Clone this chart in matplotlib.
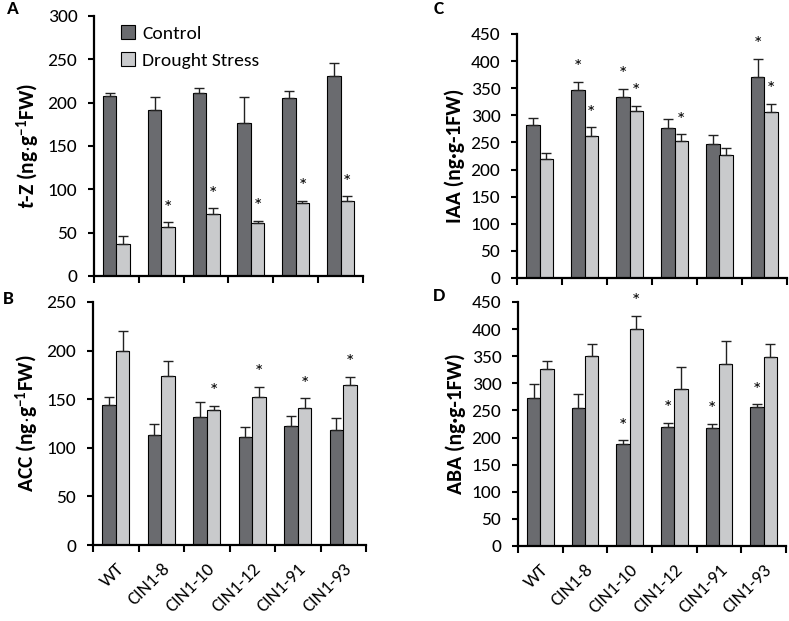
import numpy as np
import matplotlib
matplotlib.use("Agg")
import matplotlib.pyplot as plt

plt.rcParams['font.family'] = ['Carlito', 'DejaVu Sans']
plt.rcParams['mathtext.fontset'] = 'custom'
plt.rcParams['mathtext.rm'] = 'Carlito:bold'
plt.rcParams['mathtext.it'] = 'Carlito:italic:bold'
plt.rcParams['mathtext.bf'] = 'Carlito:bold'

# lines (x categories)
lines = ['WT', 'CIN1-8', 'CIN1-10', 'CIN1-12', 'CIN1-91', 'CIN1-93']

# t-Z
tz_ctrl = [208, 192, 211, 177, 205, 231]
tz_ctrl_err = [3, 15, 6, 29, 9, 15]
tz_dro = [37, 57, 72, 61, 84, 87]
tz_dro_err = [9, 5, 6, 3, 3, 5]
tz_ctrl_sig = [0, 0, 0, 0, 0, 0]
tz_dro_sig = [0, 1, 1, 1, 1, 1]

# ACC
acc_ctrl = [144, 113, 132, 111, 122, 118]
acc_ctrl_err = [8, 11, 15, 10, 11, 13]
acc_dro = [200, 174, 139, 152, 141, 165]
acc_dro_err = [20, 15, 4, 11, 10, 8]
acc_ctrl_sig = [0, 0, 0, 0, 0, 0]
acc_dro_sig = [0, 0, 1, 1, 1, 1]

# IAA
iaa_ctrl = [282, 346, 334, 276, 247, 371]
iaa_ctrl_err = [13, 16, 15, 17, 16, 33]
iaa_dro = [220, 262, 308, 253, 227, 306]
iaa_dro_err = [11, 16, 10, 12, 12, 15]
iaa_ctrl_sig = [0, 1, 1, 0, 0, 1]
iaa_dro_sig = [0, 1, 1, 1, 0, 1]

# ABA
aba_ctrl = [273, 254, 189, 219, 218, 257]
aba_ctrl_err = [26, 27, 6, 8, 7, 4]
aba_dro = [326, 351, 400, 289, 336, 348]
aba_dro_err = [15, 21, 25, 42, 42, 25]
aba_ctrl_sig = [0, 0, 1, 1, 1, 1]
aba_dro_sig = [0, 0, 1, 0, 0, 0]

dark = '#6a6b6f'
light = '#c9cacc'
W, H = 789, 621

fig = plt.figure(figsize=(W / 100, H / 100), dpi=100)


def px_axes(l, t, r, b):
    return fig.add_axes([l / W, 1 - b / H, (r - l) / W, (b - t) / H])


def star(ax, x, y):
    ax.annotate('*', (x, y), xytext=(0, 4), textcoords='offset points', ha='center',
                va='bottom', fontsize=15, annotation_clip=False)


def panel(ax, ctrl, ctrl_err, dro, dro_err, csig, dsig, ymax, ylabel, xlabels):
    x = np.arange(len(lines))
    w = 0.3
    ekw = dict(ecolor='#222222', elinewidth=1.0, capsize=3.5, capthick=1.0)
    b1 = ax.bar(x - w / 2, ctrl, w, color=dark, edgecolor='black', linewidth=0.8,
                yerr=[np.zeros(len(ctrl)), ctrl_err], error_kw=ekw, label='Control', zorder=2)
    b2 = ax.bar(x + w / 2, dro, w, color=light, edgecolor='black', linewidth=0.8,
                yerr=[np.zeros(len(dro)), dro_err], error_kw=ekw, label='Drought Stress', zorder=2)
    # significance stars
    for i in range(len(lines)):
        if csig[i]:
            star(ax, x[i] - w / 2, ctrl[i] + ctrl_err[i])
        if dsig[i]:
            star(ax, x[i] + w / 2, dro[i] + dro_err[i])
    ax.set_xlim(-0.5, len(lines) - 0.5)
    ax.set_ylim(0, ymax)
    ax.set_yticks(np.arange(0, ymax + 1, 50))
    ax.set_xticks(np.arange(-0.5, len(lines), 1.0))
    ax.set_xticklabels([])
    ax.set_xticks(x, minor=True)
    if xlabels:
        ax.set_xticklabels(lines, minor=True, rotation=45, ha='right',
                           rotation_mode='anchor', fontsize=13.5)
    ax.tick_params(axis='x', which='minor', length=0, pad=11)
    ax.tick_params(axis='x', which='major', length=5, width=1.5, direction='out')
    ax.tick_params(axis='y', length=4, width=1.5, direction='out', labelsize=14, pad=8)
    for s in ['top', 'right']:
        ax.spines[s].set_visible(False)
    for s in ['left', 'bottom']:
        ax.spines[s].set_linewidth(1.6)
    ax.set_ylabel(ylabel, fontsize=15.5, fontweight='bold', labelpad=4)
    return b1, b2


axA = px_axes(94, 16, 363, 276)
axB = px_axes(93, 302, 366, 545)
axC = px_axes(517, 34, 787, 278)
axD = px_axes(518, 302, 786, 546)

panel(axA, tz_ctrl, tz_ctrl_err, tz_dro, tz_dro_err, tz_ctrl_sig, tz_dro_sig, 300,
      r'$\mathit{t}$-Z (ng$\cdot$g$^{-1}$FW)', False)
panel(axB, acc_ctrl, acc_ctrl_err, acc_dro, acc_dro_err, acc_ctrl_sig, acc_dro_sig, 250,
      r'ACC (ng$\cdot$g$^{-1}$FW)', True)
panel(axC, iaa_ctrl, iaa_ctrl_err, iaa_dro, iaa_dro_err, iaa_ctrl_sig, iaa_dro_sig, 450,
      'IAA (ng·g-1FW)', False)
panel(axD, aba_ctrl, aba_ctrl_err, aba_dro, aba_dro_err, aba_ctrl_sig, aba_dro_sig, 450,
      'ABA (ng·g-1FW)', True)

axA.legend(loc='upper left', bbox_to_anchor=(0.1, 0.965), frameon=False, fontsize=14,
           handlelength=0.7, handleheight=0.7, handletextpad=0.4, labelspacing=0.55,
           borderpad=0, borderaxespad=0)

for lab, (xx, yy) in zip('ABCD', [(13, 9), (8, 299), (439, 9), (439, 296)]):
    fig.text(xx / W, 1 - yy / H, lab, fontsize=14, fontweight='bold', ha='center', va='center')

fig.savefig('out.png', dpi=100)
